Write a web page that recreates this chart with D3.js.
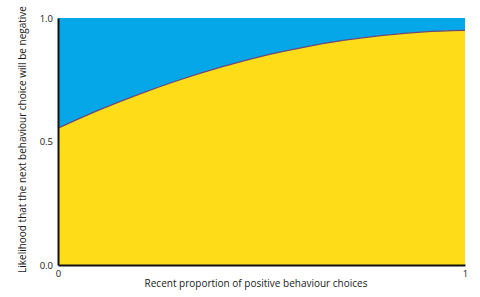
<!DOCTYPE html>
<html>
<head>
<meta charset="utf-8">
<script src="https://cdn.jsdelivr.net/npm/d3@7"></script>
<style>
    body { margin: 0; background: #fff; }
    svg { display: block; }
</style>
</head>
<body>
<div id="chart"></div>
<script>
// values
const proportion = [0, 0.1, 0.2, 0.3, 0.4, 0.5, 0.6, 0.7, 0.8, 0.9, 1.0];
const likelihood = [0.554, 0.627, 0.692, 0.750, 0.801, 0.845, 0.880, 0.909, 0.930, 0.944, 0.950];
const xTicks = [0, 1];
const yTicks = [0, 0.5, 1];
const xTitle = "Recent proportion of positive behaviour choices";
const yTitle = "Likelihood that the next behaviour choice will be negative";

const svgWidth = 480, svgHeight = 297;
const margin = { top: 18, right: 15, bottom: 32, left: 58 };
const width = svgWidth - margin.left - margin.right;
const height = svgHeight - margin.top - margin.bottom;
const font = "'Open Sans', sans-serif";

const data = proportion.map((p, i) => ({ x: p, y: likelihood[i] }));

const x = d3.scaleLinear().domain([0, 1]).range([0, width]);
const y = d3.scaleLinear().domain([0, 1]).range([height, 0]);

const svg = d3.select("#chart").append("svg")
    .attr("width", svgWidth)
    .attr("height", svgHeight)
    .attr("font-family", font);

const chart = svg.append("g")
    .attr("transform", `translate(${margin.left},${margin.top})`);

// blue background = area above the curve
chart.append("rect")
    .attr("width", width)
    .attr("height", height)
    .attr("fill", "#05a7e8");

const area = d3.area()
    .x(d => x(d.x))
    .y0(height)
    .y1(d => y(d.y))
    .curve(d3.curveMonotoneX);

const line = d3.line()
    .x(d => x(d.x))
    .y(d => y(d.y))
    .curve(d3.curveMonotoneX);

chart.append("path")
    .datum(data)
    .attr("d", area)
    .attr("fill", "#fedd18");

chart.append("path")
    .datum(data)
    .attr("d", line)
    .attr("fill", "none")
    .attr("stroke", "#6e4a72")
    .attr("stroke-width", 1.3);

// axes
const xAxis = chart.append("g")
    .attr("transform", `translate(0,${height})`)
    .call(d3.axisBottom(x).tickValues(xTicks).tickFormat(d3.format("d")).tickSize(0).tickPadding(5));
xAxis.select(".domain").attr("stroke", "#111").attr("stroke-width", 2);
xAxis.selectAll("text").attr("font-family", font).attr("font-size", 9.5).attr("fill", "#1a1a1a");

const yAxis = chart.append("g")
    .call(d3.axisLeft(y).tickValues(yTicks).tickFormat(d3.format(".1f")).tickSize(0).tickPadding(5));
yAxis.select(".domain").attr("stroke", "#111").attr("stroke-width", 2);
yAxis.selectAll("text").attr("font-family", font).attr("font-size", 9.5).attr("fill", "#1a1a1a");

// titles
svg.append("text")
    .attr("x", 256)
    .attr("y", 287)
    .attr("text-anchor", "middle")
    .attr("font-size", 10)
    .attr("fill", "#1a1a1a")
    .text(xTitle);

svg.append("text")
    .attr("transform", `translate(26,${margin.top + height / 2 - 2}) rotate(-90)`)
    .attr("text-anchor", "middle")
    .attr("font-size", 10)
    .attr("fill", "#1a1a1a")
    .text(yTitle);
</script>
</body>
</html>
